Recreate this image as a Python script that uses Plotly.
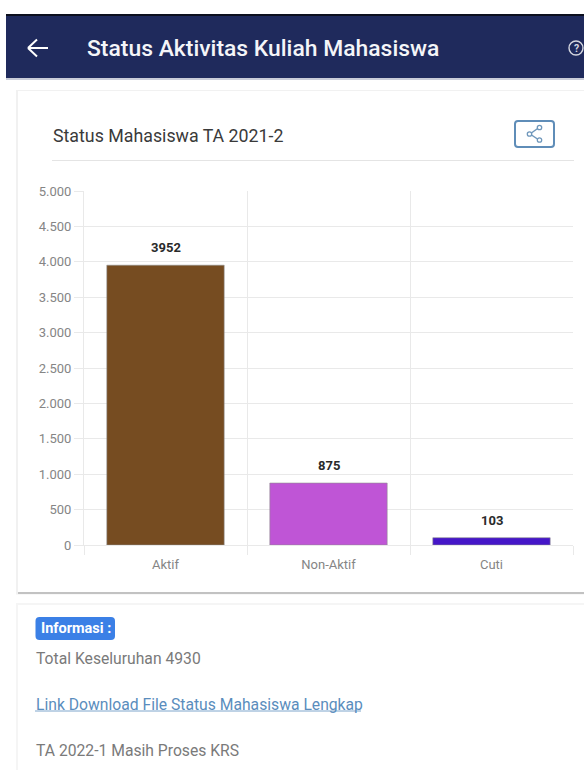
import plotly.graph_objects as go

W, H = 584, 770

categories = ["Aktif", "Non-Aktif", "Cuti"]
jumlah = [3952, 875, 103]
warna = ["#764c21", "#bf55d6", "#4516c8"]
y_ticks = [0, 500, 1000, 1500, 2000, 2500, 3000, 3500, 4000, 4500, 5000]

FONT = "Roboto, sans-serif"
NAVY = "#1f2a5c"
GRID = "#e9e9e9"
TICK = "#858585"


def px(x):
    return x / W


def py(y):
    return 1 - y / H


def rect(x0, y0, x1, y1, fill):
    return dict(type="rect", xref="paper", yref="paper", layer="below",
                x0=px(x0), y0=py(y0), x1=px(x1), y1=py(y1), fillcolor=fill,
                line=dict(width=0))


def rounded(x0, y0, x1, y1, r, fill, line=None, width=0):
    d = (f"M {px(x0 + r)} {py(y0)} L {px(x1 - r)} {py(y0)} Q {px(x1)} {py(y0)} {px(x1)} {py(y0 + r)} "
         f"L {px(x1)} {py(y1 - r)} Q {px(x1)} {py(y1)} {px(x1 - r)} {py(y1)} "
         f"L {px(x0 + r)} {py(y1)} Q {px(x0)} {py(y1)} {px(x0)} {py(y1 - r)} "
         f"L {px(x0)} {py(y0 + r)} Q {px(x0)} {py(y0)} {px(x0 + r)} {py(y0)} Z")
    return dict(type="path", xref="paper", yref="paper", path=d, fillcolor=fill,
                line=dict(color=line or fill, width=width))


def seg(x0, y0, x1, y1, color, width=1, layer="above"):
    return dict(type="line", xref="paper", yref="paper", layer=layer,
                x0=px(x0), y0=py(y0), x1=px(x1), y1=py(y1),
                line=dict(color=color, width=width))


def dot(cx, cy, r, color, fill="rgba(0,0,0,0)", width=1.3):
    return dict(type="circle", xref="paper", yref="paper",
                x0=px(cx - r), y0=py(cy - r), x1=px(cx + r), y1=py(cy + r),
                fillcolor=fill, line=dict(color=color, width=width))


def label(x, y, text, size, color, weight=400, anchor="left"):
    return dict(xref="paper", yref="paper", x=px(x), y=py(y), text=text,
                showarrow=False, xanchor=anchor, yanchor="middle",
                font=dict(family=FONT, size=size, color=color, weight=weight))


shapes = [
    # top bar
    rect(6, 14, W, 16, "#0c0f1e"),
    rect(6, 16, W, 78, NAVY),
    rect(6, 78, W, 80, "#c9ccd8"),
    # chart card: faint sides, darker shadow along the lower edge
    rect(16, 90, W, 594.5, "#f1f1f1"),
    rect(18, 590, W, 594, "#c2c2c2"),
    rect(18, 91, W, 592, "#ffffff"),
    # info card
    rect(16, 603, W, H, "#f5f5f5"),
    rect(18, 605, W, H, "#ffffff"),
    # title rule
    seg(52, 160.5, 574, 160.5, "#e4e4e4", 1, "below"),
    # info badge
    rounded(35.5, 617, 115, 640, 4, "#3b80e6"),
    # link underline
    seg(35, 711, 361, 711, "#7ea6cc", 1),
    # share button
    rounded(515, 121, 554, 147, 3, "#ffffff", "#5f8db8", 2),
    seg(530, 134, 539, 127.5, "#6f97bb", 1.5),
    seg(530, 134, 539, 140, "#6f97bb", 1.5),
    dot(529.5, 134, 2.2, "#6f97bb", "#ffffff"),
    dot(539.5, 127.5, 2.2, "#6f97bb", "#ffffff"),
    dot(539.5, 140, 2.2, "#6f97bb", "#ffffff"),
    # back arrow
    seg(28, 48, 48, 48, "#ffffff", 2),
    seg(28, 48, 37, 39.5, "#ffffff", 2),
    seg(28, 48, 37, 56.5, "#ffffff", 2),
    # help icon
    dot(576, 48, 7, "#d5d7e0", width=1.4),
]

annotations = [
    label(85, 48, "Status Aktivitas Kuliah Mahasiswa", 22.9, "#f4f5f8", 500),
    label(576, 48, "?", 10.5, "#d5d7e0", 700, "center"),
    label(51, 135, "Status Mahasiswa TA 2021-2", 17.8, "#3a3a3a"),
    label(38.5, 628, "Informasi :", 14.5, "#ffffff", 700),
    label(33.5, 658, "Total Keseluruhan 4930", 15.7, "#7a7a7a"),
    label(33.5, 704, "Link Download File Status Mahasiswa Lengkap", 15.7, "#5a8dbd"),
    label(33.5, 750, "TA 2022-1 Masih Proses KRS", 15.7, "#7a7a7a"),
]

# value captions sit a fixed distance above each bar
for cat, val in zip(categories, jumlah):
    annotations.append(dict(x=cat, y=val, xref="x", yref="y", text=str(val),
                            showarrow=False, yanchor="bottom", yshift=8,
                            font=dict(family=FONT, size=13, color="#2a2a2a", weight=700)))

fig = go.Figure(go.Bar(x=categories, y=jumlah, width=0.72,
                       marker=dict(color=warna, line=dict(color="#8f8f8f", width=0.6)),
                       hoverinfo="skip"))

fig.update_layout(
    width=W, height=H, autosize=False,
    margin=dict(l=0, r=0, t=0, b=0, autoexpand=False),
    paper_bgcolor="#ffffff", plot_bgcolor="#ffffff",
    separators=",.",
    showlegend=False, shapes=shapes, annotations=annotations,
    font=dict(family=FONT),
    xaxis=dict(domain=[px(84), px(573)], tickson="boundaries", showgrid=True,
               gridcolor=GRID, gridwidth=1, ticks="outside", ticklen=9,
               tickcolor=GRID, showline=True, linecolor=GRID, linewidth=1,
               ticklabelstandoff=7, automargin=False,
               tickfont=dict(size=13, color=TICK, family=FONT)),
    yaxis=dict(domain=[py(545), py(191)], range=[0, 5000], tickvals=y_ticks,
               tickformat=",d", showgrid=True, gridcolor=GRID, gridwidth=1,
               ticks="outside", ticklen=9, tickcolor=GRID, zeroline=False,
               showline=True, linecolor=GRID, linewidth=1, automargin=False,
               tickfont=dict(size=13, color=TICK, family=FONT)),
)

fig.write_html("out.html", config=dict(displayModeBar=False))
